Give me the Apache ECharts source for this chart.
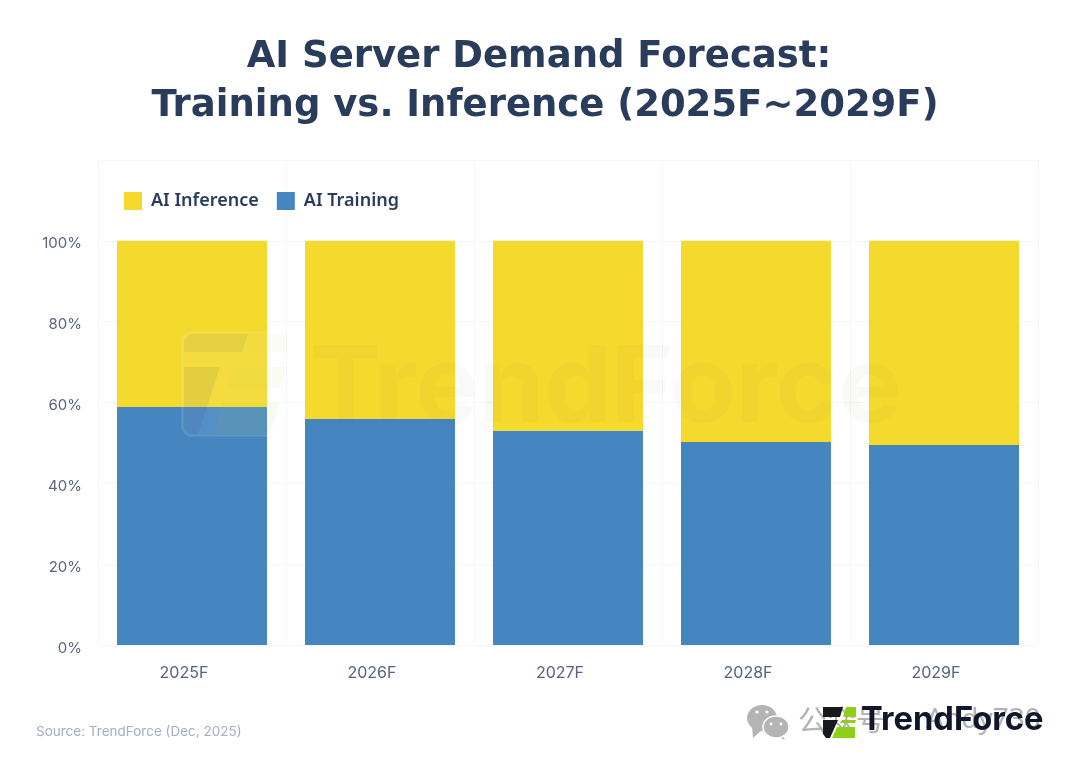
<!DOCTYPE html>
<html>
<head>
<meta charset="utf-8">
<style>
  html, body { margin: 0; padding: 0; background: #fff; }
  #chart { width: 1080px; height: 766px; }
</style>
<script src="https://cdn.jsdelivr.net/npm/echarts@6/dist/echarts.min.js"></script>
</head>
<body>
<div id="chart"></div>
<script>
const categories = ['2025F', '2026F', '2027F', '2028F', '2029F']
const training = [58.9, 55.9, 53.0, 50.2, 49.5]
const inference = [41.1, 44.1, 47.0, 49.8, 50.5]
const yTicks = [0, 20, 40, 60, 80, 100]

const navy = '#2a3c5b'
const labelColor = '#55647f'
const gridColor = '#f5f6f7'
const titleFont = '"DejaVu Sans", sans-serif'
const bodyFont = 'Inter, "Open Sans", sans-serif'
const stampGray = '#b4b4b4'

const myChart = echarts.init(document.getElementById('chart'), null, { renderer: 'canvas' })

const option = {
  animation: false,
  backgroundColor: '#fff',
  title: [
    {
      text: 'AI Server Demand Forecast:',
      left: 534, top: 34, textAlign: 'center',
      textStyle: { fontFamily: titleFont, fontSize: 37, fontWeight: 700, color: navy }
    },
    {
      text: 'Training vs. Inference (2025F~2029F)',
      left: 540, top: 83, textAlign: 'center',
      textStyle: { fontFamily: titleFont, fontSize: 37, fontWeight: 700, color: navy }
    }
  ],
  legend: {
    left: 119,
    top: 187,
    itemWidth: 18,
    itemHeight: 18,
    itemGap: 18,
    icon: 'rect',
    data: ['AI Inference', 'AI Training'],
    textStyle: { fontFamily: '"Noto Sans"', fontSize: 18, fontWeight: 600, color: navy, padding: [0, 0, 0, 4] }
  },
  grid: { left: 98, right: 42, top: 160, bottom: 121 },
  xAxis: {
    type: 'category',
    data: categories,
    axisLine: { show: false },
    axisTick: { show: false },
    splitLine: { show: true, lineStyle: { color: gridColor, width: 1 } },
    axisLabel: { margin: 20, padding: [0, 16, 0, 0], fontFamily: bodyFont, fontSize: 16, color: labelColor }
  },
  yAxis: {
    type: 'value',
    min: 0,
    max: 120,
    interval: 20,
    axisLine: { show: false },
    axisTick: { show: false },
    splitLine: { show: true, lineStyle: { color: gridColor, width: 1 } },
    axisLabel: {
      margin: 16,
      verticalAlign: 'top',
      lineHeight: 6,
      fontFamily: bodyFont,
      fontSize: 15,
      color: labelColor,
      formatter: v => (yTicks.includes(v) ? v + '%' : '')
    }
  },
  series: [
    {
      name: 'AI Training', type: 'bar', stack: 'total', barWidth: 150,
      itemStyle: { color: '#4686c0' }, data: training
    },
    {
      name: 'AI Inference', type: 'bar', stack: 'total', barWidth: 150,
      itemStyle: { color: '#f5da2e' }, data: inference
    }
  ],
  graphic: [
    // TrendForce watermark over the plot
    { type: 'rect', z: 50, shape: { x: 182, y: 332, width: 106, height: 104, r: 10 }, style: { fill: 'rgba(255,255,255,0.08)', stroke: 'rgba(250,250,225,0.08)', lineWidth: 2 } },
    { type: 'polygon', z: 51, shape: { points: [[184, 340], [190, 334], [248, 334], [242, 352], [184, 352]] }, style: { fill: 'rgba(30,50,120,0.07)' } },
    { type: 'polygon', z: 51, shape: { points: [[184, 367], [220, 367], [198, 434], [190, 434], [184, 428]] }, style: { fill: 'rgba(30,50,120,0.08)' } },
    { type: 'polygon', z: 51, shape: { points: [[248, 334], [287, 334], [287, 352], [242, 352]] }, style: { fill: 'rgba(170,210,60,0.05)' } },
    { type: 'polygon', z: 51, shape: { points: [[233, 367], [287, 367], [280, 388], [227, 388]] }, style: { fill: 'rgba(170,210,60,0.06)' } },
    { type: 'polygon', z: 51, shape: { points: [[223, 403], [280, 403], [270, 434], [213, 434]] }, style: { fill: 'rgba(170,210,60,0.08)' } },
    {
      type: 'text', z: 51, left: 310, top: 337,
      style: { text: 'TrendForce', fontFamily: bodyFont, fontSize: 106, fontWeight: 700, fill: 'rgba(60,50,20,0.03)' }
    },
    // source note
    {
      type: 'text', left: 36, top: 725,
      style: { text: 'Source: TrendForce (Dec, 2025)', fontFamily: bodyFont, fontSize: 13.5, fill: '#a3aec4' }
    },
    // WeChat stamp
    { type: 'polygon', shape: { points: [[752, 726], [753, 738], [762, 730]] }, style: { fill: stampGray } },
    { type: 'ellipse', shape: { cx: 762, cy: 718, rx: 15, ry: 13 }, style: { fill: stampGray } },
    { type: 'polygon', shape: { points: [[781, 733], [785, 740], [775, 735]] }, style: { fill: stampGray } },
    { type: 'ellipse', shape: { cx: 776, cy: 727, rx: 13, ry: 11 }, style: { fill: stampGray, stroke: '#fff', lineWidth: 1.5 } },
    { type: 'circle', shape: { cx: 757, cy: 712, r: 1.6 }, style: { fill: '#fff' } },
    { type: 'circle', shape: { cx: 767, cy: 712, r: 1.6 }, style: { fill: '#fff' } },
    { type: 'circle', shape: { cx: 771, cy: 724, r: 1.4 }, style: { fill: '#fff' } },
    { type: 'circle', shape: { cx: 781, cy: 724, r: 1.4 }, style: { fill: '#fff' } },
    {
      type: 'text', left: 798, top: 705,
      style: { text: '公众号', fontFamily: '"Noto Sans CJK SC"', fontSize: 29, fill: stampGray }
    },
    {
      type: 'text', left: 926, top: 706,
      style: { text: 'Andy730', fontFamily: '"Noto Sans"', fontSize: 28, fill: stampGray }
    },
    // TrendForce logo
    { type: 'polygon', z: 60, shape: { points: [[823, 707], [843, 707], [840, 717], [823, 717]] }, style: { fill: '#17181c' } },
    { type: 'polygon', z: 60, shape: { points: [[823, 720], [838, 720], [830, 738], [826, 738], [823, 734]] }, style: { fill: '#17181c' } },
    { type: 'polygon', z: 60, shape: { points: [[846, 707], [856, 707], [856, 717], [843, 717]] }, style: { fill: '#8fd016' } },
    { type: 'polygon', z: 60, shape: { points: [[842, 720], [856, 720], [855, 723], [840, 723]] }, style: { fill: '#8fd016' } },
    { type: 'polygon', z: 60, shape: { points: [[837, 727], [855, 727], [855, 738], [832, 738]] }, style: { fill: '#8fd016' } },
    {
      type: 'text', z: 60, left: 861, top: 704,
      style: { text: 'TrendForce', fontFamily: bodyFont, fontSize: 32.7, fontWeight: 700, fill: '#10172a' }
    }
  ]
}

myChart.setOption(option)
</script>
</body>
</html>
